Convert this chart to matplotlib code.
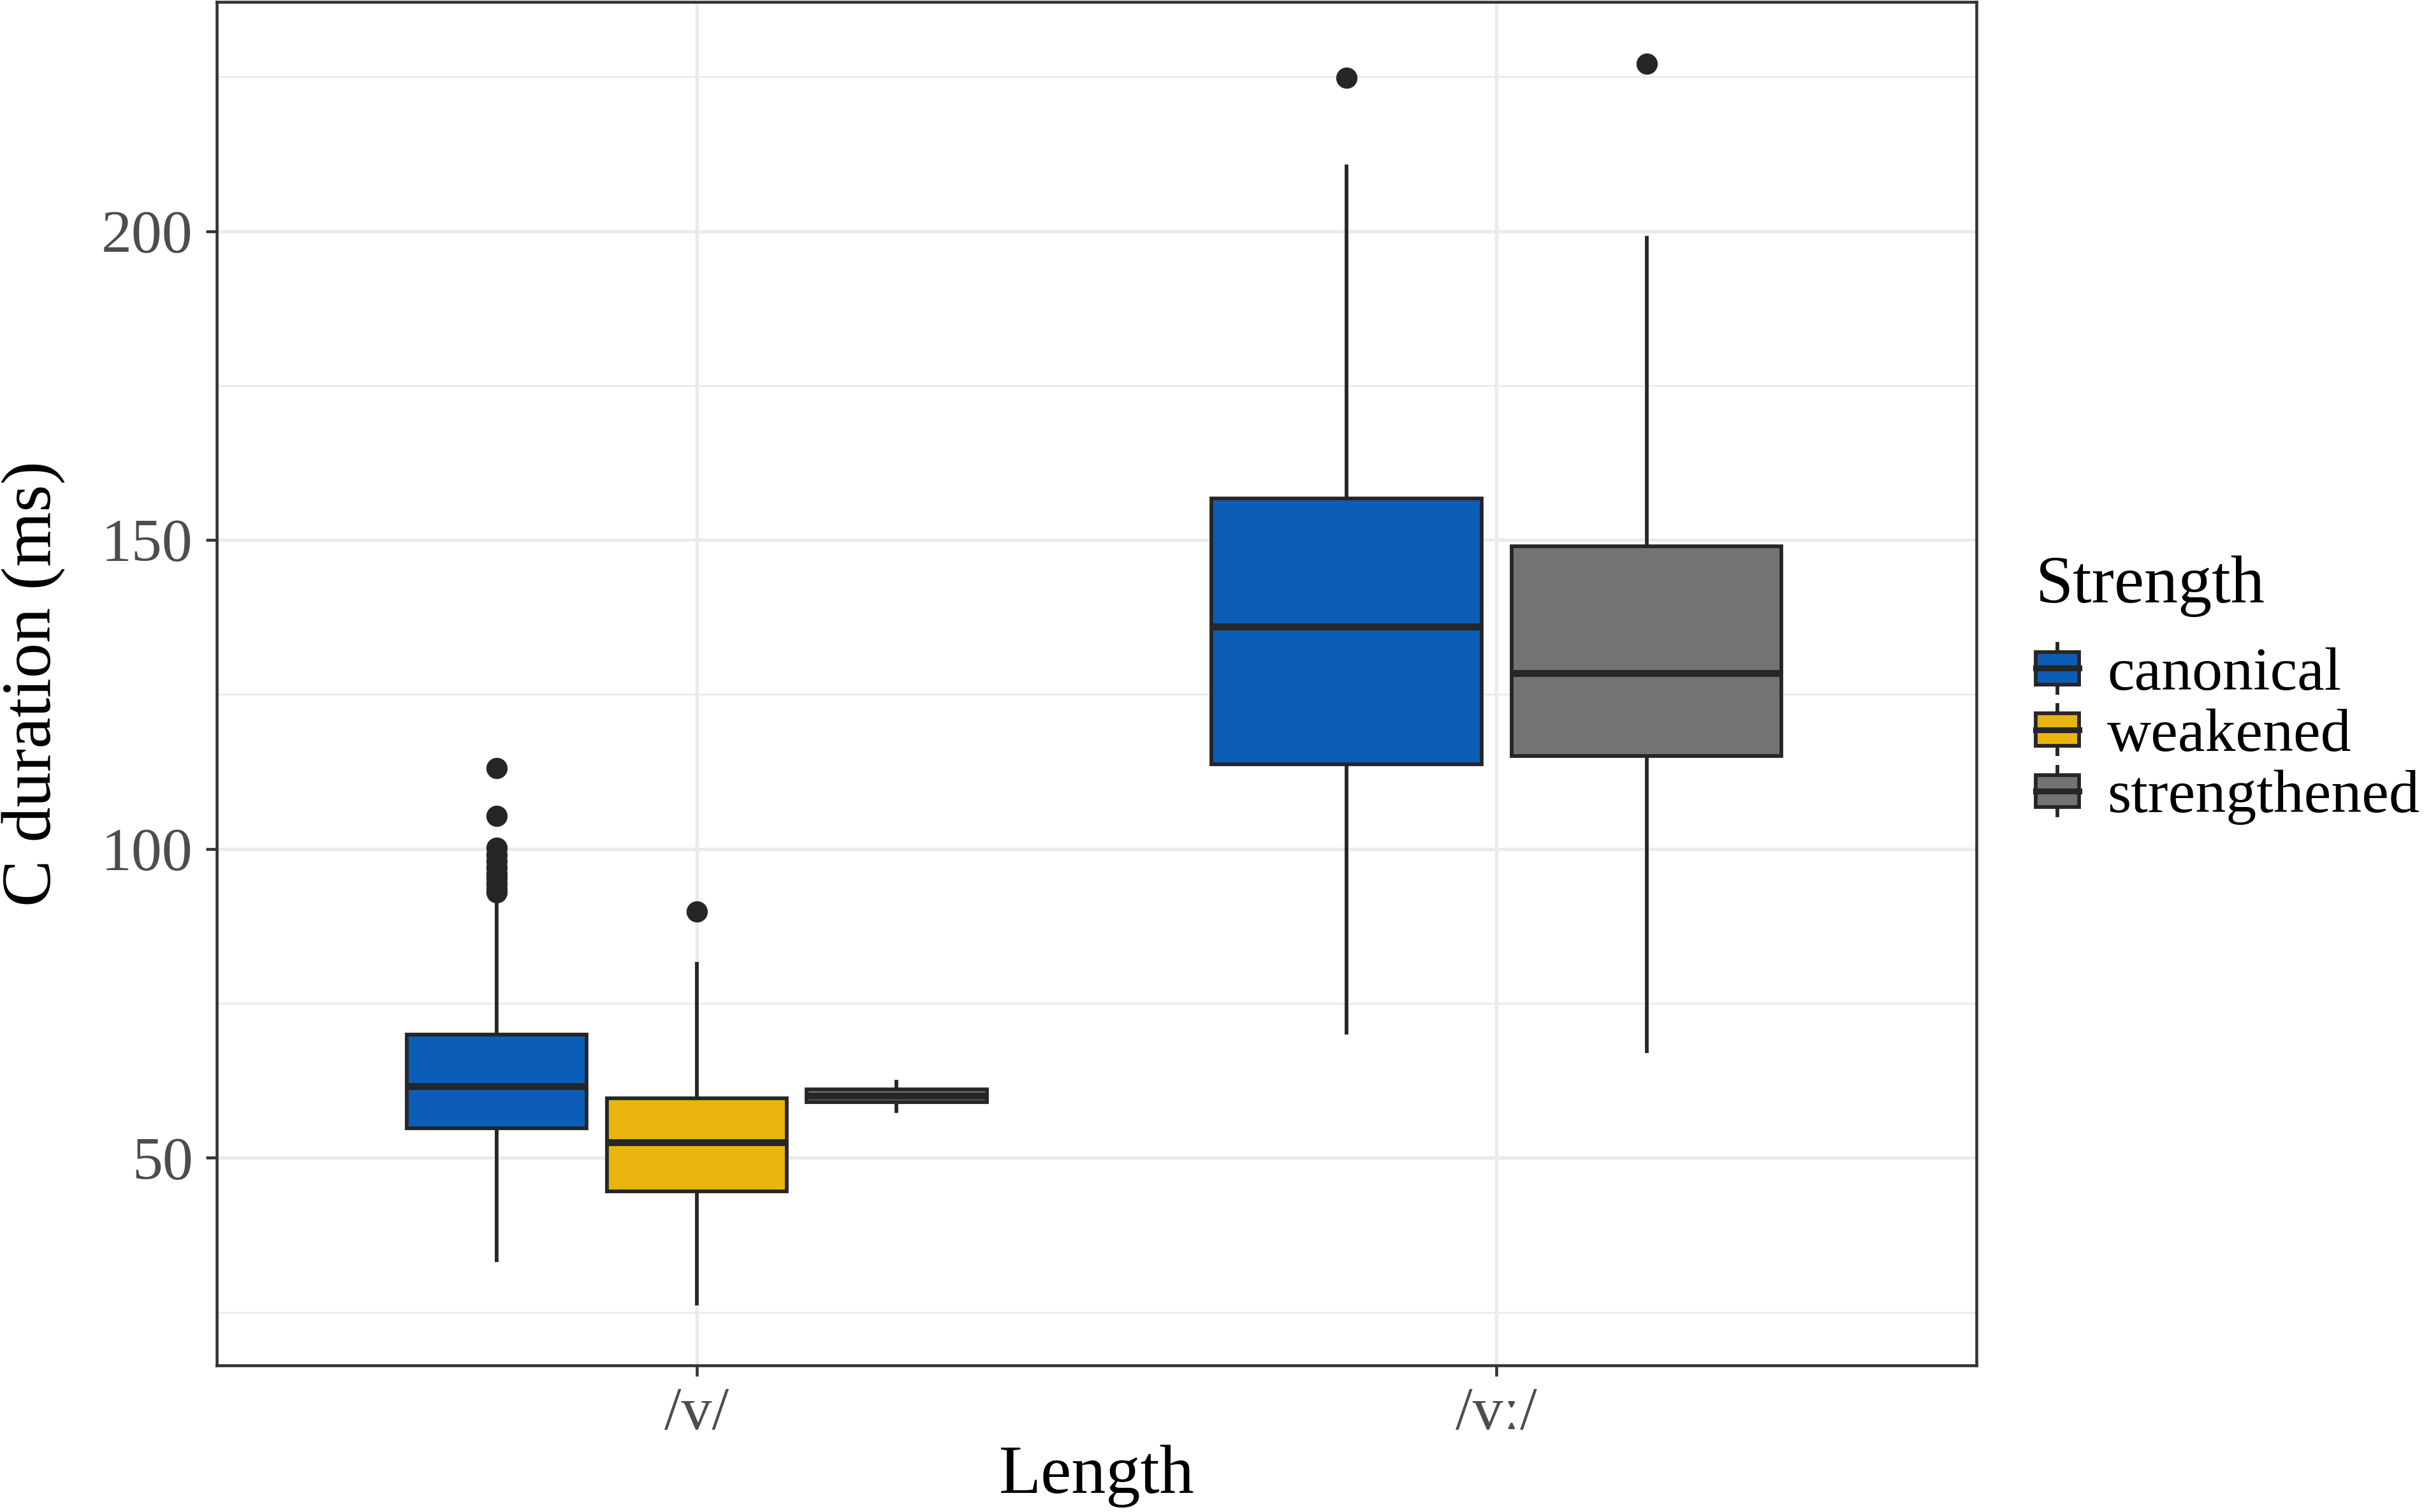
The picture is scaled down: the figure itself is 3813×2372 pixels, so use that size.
import matplotlib
matplotlib.use('Agg')
import matplotlib.pyplot as plt
from matplotlib.patches import Rectangle, Patch
from matplotlib.lines import Line2D
from matplotlib.legend_handler import HandlerBase
from matplotlib.ticker import MultipleLocator

# data: boxplot summaries (C duration, ms)
length_labels = ['/v/', '/vː/']
strength_levels = ['canonical', 'weakened', 'strengthened']
strength_colors = ['#0C5DB5', '#E9B50D', '#737373']

box_length = ['/v/', '/v/', '/v/', '/vː/', '/vː/']
box_strength = ['canonical', 'weakened', 'strengthened', 'canonical', 'strengthened']
whisker_low = [33.4, 26.4, 57.6, 70.3, 67.3]
quart_1 = [54.8, 44.6, 59.0, 113.7, 115.0]
medians = [61.6, 52.5, 60.0, 136.0, 128.5]
quart_3 = [69.9, 59.6, 61.1, 156.7, 149.0]
whisker_high = [92.0, 81.4, 62.3, 210.5, 198.9]
outliers = [
    [93.0, 93.5, 94.3, 95.2, 96.0, 97.0, 98.0, 99.0, 100.2, 105.3, 113.1],
    [89.9],
    [],
    [224.8],
    [227.1],
]

# style
plt.rcParams['font.family'] = ['Liberation Serif', 'DejaVu Serif']
edge_col = '#262626'
grid_col = '#EBEBEB'
border_col = '#333333'

fig = plt.figure(figsize=(3813 / 300, 2372 / 300), dpi=300)
ax = fig.add_axes([340 / 3813, 1 - 2142 / 2372, 2760 / 3813, 2139 / 2372])

# dodge like ggplot: total width 0.75 split between the groups present at each x
dodge = 0.75
stats, positions, widths, colors = [], [], [], []
for i in range(len(box_length)):
    xi = length_labels.index(box_length[i]) + 1
    here = [s for s, l in zip(box_strength, box_length) if l == box_length[i]]
    n = len(here)
    k = here.index(box_strength[i])
    slot = dodge / n
    positions.append(xi - dodge / 2 + slot * (k + 0.5))
    widths.append(slot * 0.9)
    colors.append(strength_colors[strength_levels.index(box_strength[i])])
    stats.append(dict(whislo=whisker_low[i], q1=quart_1[i], med=medians[i],
                      q3=quart_3[i], whishi=whisker_high[i], fliers=outliers[i]))

bp = ax.bxp(stats, positions=positions, widths=widths, patch_artist=True,
            showcaps=False, manage_ticks=False,
            boxprops=dict(edgecolor=edge_col, linewidth=1.4),
            whiskerprops=dict(color=edge_col, linewidth=1.4),
            medianprops=dict(color=edge_col, linewidth=2.6, solid_capstyle='butt'),
            flierprops=dict(marker='o', markersize=7, markerfacecolor=edge_col,
                            markeredgecolor=edge_col, linestyle='none'))
for patch, c in zip(bp['boxes'], colors):
    patch.set_facecolor(c)
for b in bp['boxes']:
    b.set_zorder(3)
for m in bp['medians']:
    m.set_zorder(4)

# axes
ax.set_xlim(0.4, 2.6)
ax.set_ylim(16.4, 237.1)
ax.set_xticks([1, 2])
ax.set_xticklabels(length_labels)
ax.yaxis.set_major_locator(MultipleLocator(50))
ax.yaxis.set_minor_locator(MultipleLocator(25))
ax.grid(which='major', color=grid_col, linewidth=1.3, zorder=0)
ax.grid(which='minor', axis='y', color=grid_col, linewidth=0.7, zorder=0)
ax.set_axisbelow(True)
ax.tick_params(which='minor', length=0)
ax.tick_params(which='major', length=4, width=1.1, color=border_col,
               labelsize=23, labelcolor='#4D4D4D', pad=4)
ax.tick_params(axis='y', pad=5)
for sp in ax.spines.values():
    sp.set_color(border_col)
    sp.set_linewidth(1.1)

ax.set_xlabel('Length', fontsize=26, color='black')
ax.set_ylabel('C duration (ms)', fontsize=26.5, color='black')
ax.xaxis.set_label_coords(0.5, -0.058)
ax.yaxis.set_label_coords(-0.086, 0.5)


# legend keys drawn like ggplot boxplot keys
class BoxKey(HandlerBase):
    def create_artists(self, legend, orig_handle, xdescent, ydescent,
                       width, height, fontsize, trans):
        x0, y0 = -xdescent, -ydescent
        stub = height * 0.17
        rect = Rectangle((x0, y0 + stub), width, height - 2 * stub,
                         facecolor=orig_handle.get_facecolor(),
                         edgecolor=edge_col, linewidth=1.4, transform=trans)
        mid = y0 + height / 2
        med = Line2D([x0, x0 + width], [mid, mid], color=edge_col,
                     linewidth=2.2, transform=trans)
        xm = x0 + width / 2
        top = Line2D([xm, xm], [y0 + height - stub, y0 + height],
                     color=edge_col, linewidth=1.4, transform=trans)
        bot = Line2D([xm, xm], [y0, y0 + stub], color=edge_col,
                     linewidth=1.4, transform=trans)
        return [top, bot, rect, med]


handles = [Patch(facecolor=c) for c in strength_colors]
leg = fig.legend(handles, strength_levels, title='Strength',
                 handler_map={Patch: BoxKey()},
                 loc='upper left', bbox_to_anchor=(3193 / 3813, 1 - 872 / 2372),
                 frameon=False, fontsize=23, title_fontsize=25.5,
                 handlelength=0.71, handleheight=0.85, handletextpad=0.46,
                 labelspacing=0.05, borderpad=0, borderaxespad=0,
                 alignment='left')
# extra gap between legend title and keys, as in ggplot
leg._legend_box.sep = 10

fig.savefig('out.png', dpi=300, facecolor='white')
